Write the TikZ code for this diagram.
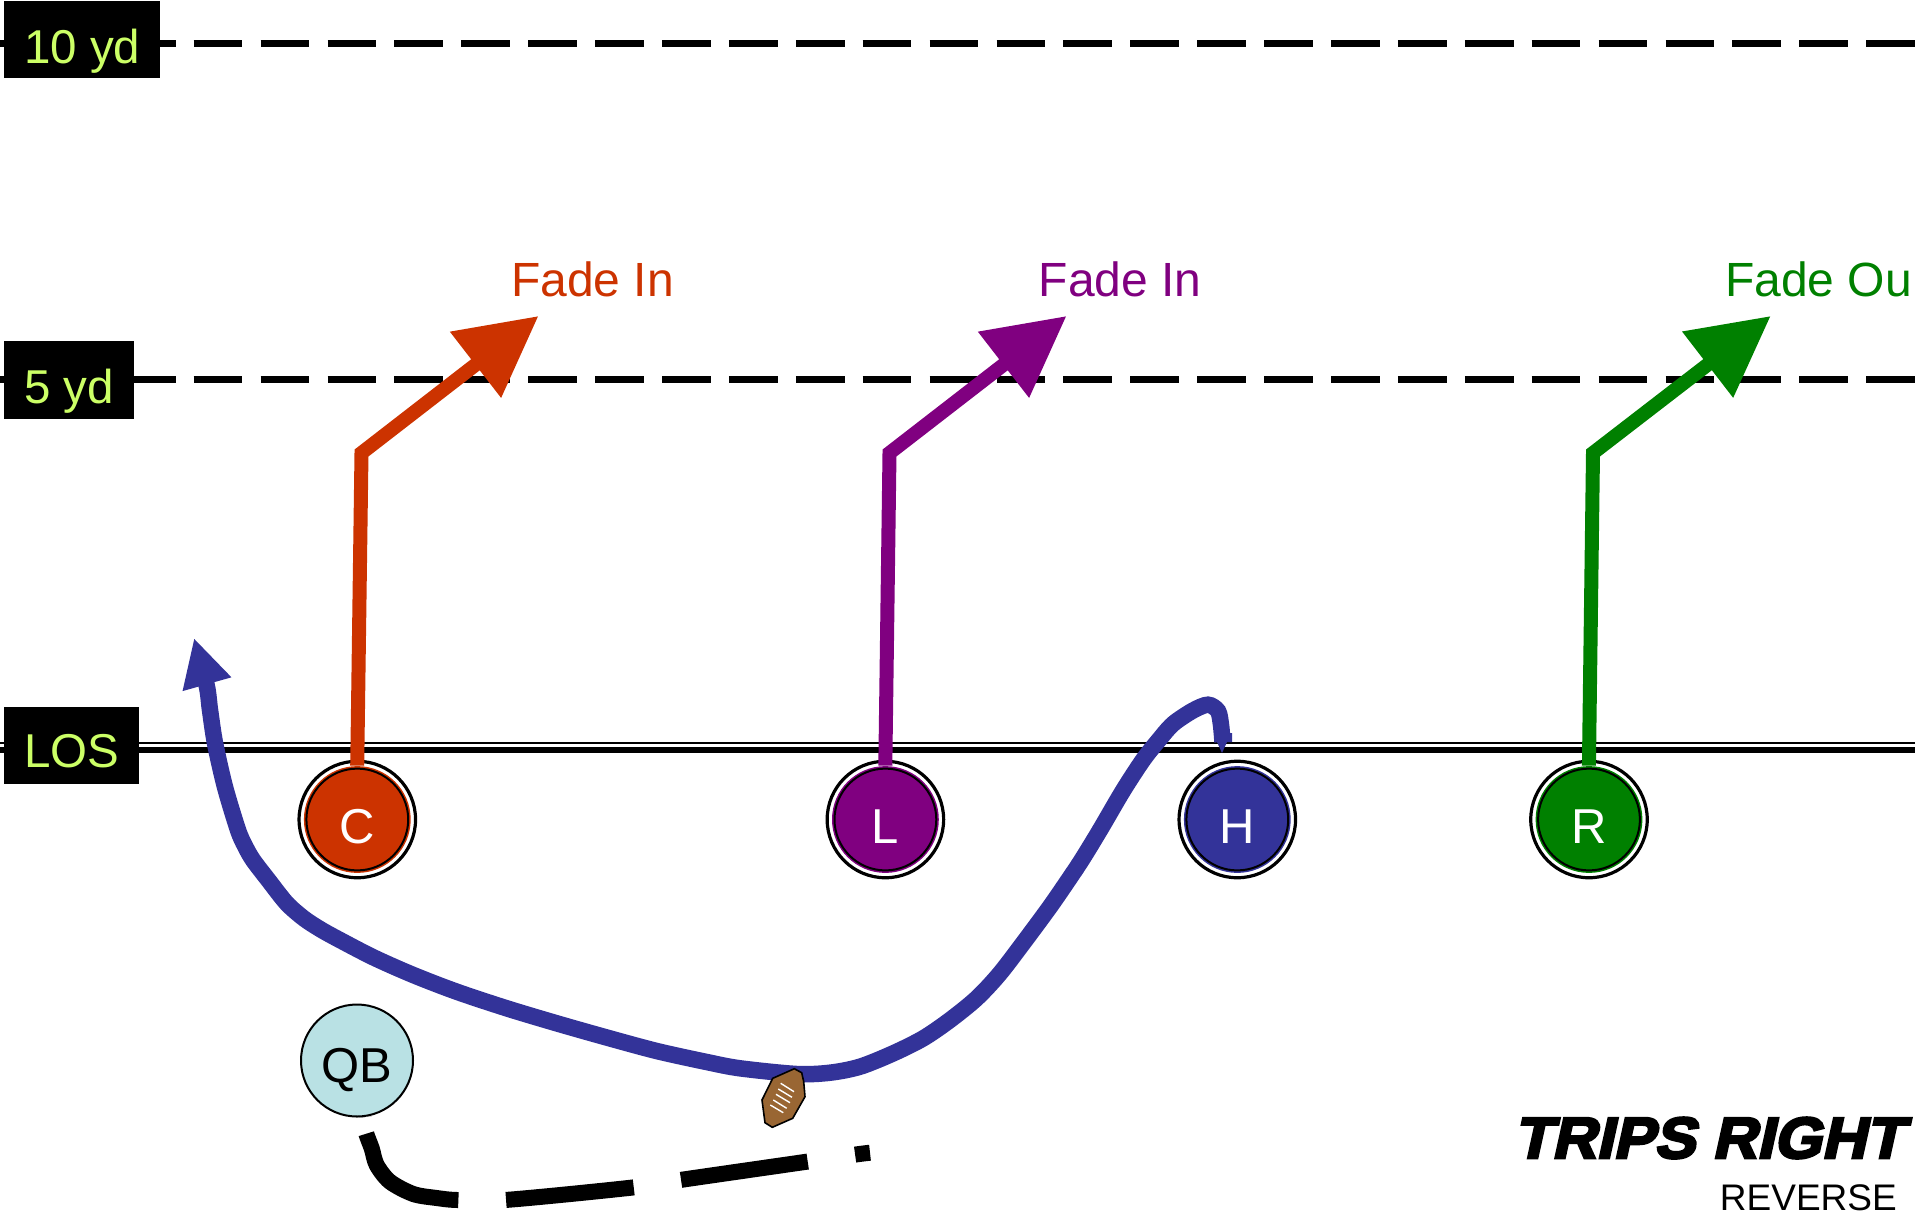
\documentclass[tikz,border=0pt]{standalone}
\usepackage{fontspec}
\setmainfont{Liberation Sans}
\newfontfamily\tripsfont[FakeBold=4.5,FakeSlant=0.22,FakeStretch=1.06]{Liberation Sans Bold}
\usetikzlibrary{arrows.meta}
\definecolor{cC}{HTML}{CC3300}
\definecolor{cL}{HTML}{800080}
\definecolor{cR}{HTML}{008000}
\definecolor{cH}{HTML}{333399}
\definecolor{cQ}{HTML}{B9E1E4}
\definecolor{cY}{HTML}{CCFF66}
\definecolor{cBall}{HTML}{996633}
\newcommand{\bigtxt}{\fontsize{48}{48}\selectfont}
\tikzset{
  player/.style={circle,inner sep=0pt,minimum size=116.5pt,draw=black,line width=3.2pt,fill=white,text=white,
    text height=48pt,text depth=0pt,font=\fontsize{49}{49}\selectfont,
    path picture={\fill[#1] (path picture bounding box.center) circle (53.4pt);
                  \draw[black,line width=2pt] (path picture bounding box.center) circle (50.9pt);}},
  qbnode/.style={circle,inner sep=0pt,minimum size=112pt,draw=black,line width=2pt,fill=cQ,text=black,
    text height=44.5pt,text depth=0pt,font=\fontsize{49}{49}\selectfont},
  yardbox/.style={fill=black,text=cY,inner sep=0pt,anchor=north west,text height=47pt,text depth=0pt,font=\fontsize{47.5}{47.5}\selectfont},
  routeline/.style={line width=14pt,line cap=butt,line join=miter,draw=#1,shorten <=-6pt,
    -{Triangle[length=79.7pt,width=79.8pt,fill=#1]}},
  routelabel/.style={anchor=base west,inner sep=0pt,font=\bigtxt,text=#1},
  lace/.style={draw=white,line width=1.4pt},
  yardline/.style={draw=black,line width=6.4pt,dash pattern=on 48.7pt off 18.2pt},
}
\begin{document}
\begin{tikzpicture}[x=1pt,y=-1pt]
\useasboundingbox (0,0) rectangle (1915,1221);
% field lines
\coordinate (a10) at (-7,43.3); \coordinate (b10) at (1915,43.3);
\coordinate (a5) at (-7,379.3); \coordinate (b5) at (1915,379.3);
\coordinate (a1) at (0,742.8); \coordinate (b1) at (1915,742.8);
\coordinate (a2) at (0,750); \coordinate (b2) at (1915,750);
\draw[yardline] (a10) -- (b10);
\draw[yardline] (a5) -- (b5);
\draw[black,line width=2.3pt] (a1) -- (b1);
\draw[black,line width=6.6pt] (a2) -- (b2);
% players
\node[player=cC] (C) at (357.3,819.5) {C};
\node[player=cL] (L) at (885.4,819.5) {L};
\node[player=cH] (H) at (1237.3,819.5) {H};
\node[player=cR] (R) at (1589,819.5) {R};
\node[qbnode] (QB) at (357,1060.5) {QB};
% straight routes
\coordinate (Ce) at (361.5,453); \coordinate (Ct) at (538.5,316);
\coordinate (Le) at (889.5,453); \coordinate (Lt) at (1066.5,316);
\coordinate (Re) at (1593,453); \coordinate (Rt) at (1770.7,316);
\draw[routeline=cC] (C.north) -- (Ce) -- (Ct);
\draw[routeline=cL] (L.north) -- (Le) -- (Lt);
\draw[routeline=cR] (R.north) -- (Re) -- (Rt);
% reverse route
\coordinate (Hs) at (1222.5,742); \coordinate (Ht) at (194,638);
\fill[cH] (1214,733) -- (1232,733) -- (1232,742) -- (1227,742) -- (1222,753) -- (1217,742) -- cycle;
\draw[cH,line width=16.5pt,-{Triangle[length=48pt,width=47pt]}] plot[smooth,tension=.5] coordinates {
 (Hs) (1221,725) (1218,711) (1208,704.7) (1193,710.5) (1173,724) (1158,741) (1143,760) (1123,790.7) (1100,830) (1081.7,860)
 (1066.7,882.5) (1050,906.7) (1026.7,938.3) (1000,973.3) (976.7,998.3) (950,1020) (923.3,1038.3) (893.3,1053.3) (860,1066.7)
 (830,1072.7) (796.7,1074) (740,1068.3) (706.7,1062) (656.7,1051) (606.7,1037.5) (556.7,1023.3) (506.7,1008.3) (456.7,991.7)
 (413.3,975) (373.3,957.3) (336.7,938.3) (320,929) (304,918.5) (286.7,903.3) (268.3,880) (253,860) (245,846) (238,830) (225,787) (215,743) (210,710) (206.5,684.5) (Ht)};
% pass
\draw[black,line width=16pt,dash pattern=on 0.01pt off 16.8pt on 126.5pt off 47.7pt on 128.3pt off 47.9pt on 128pt off 47.9pt on 15.8pt]
 plot[smooth,tension=.5] coordinates {(QB.-83) (366,1132.7) (371.7,1148.3) (376.7,1165) (390,1181.7) (413.3,1194) (436.7,1198) (457.3,1200)
 (505,1200) (632.7,1187.5) (680,1180) (806.7,1161.7) (854.3,1154.7) (870,1152.7)};
% football
\filldraw[fill=cBall,draw=black,line width=1.6pt] (794.3,1068.7) -- (801.7,1072.7) -- (803.7,1081.7) -- (805,1096.7) -- (792.7,1118.3) -- (772.3,1127.3) -- (765,1122.7) -- (762,1100) -- (772.7,1078.3) -- cycle;
\draw[lace] (780.7,1083.3) -- (794,1091.7);
\draw[lace] (778.3,1089) -- (792,1097.3);
\draw[lace] (776,1094.3) -- (790,1102.7);
\draw[lace] (773.3,1100) -- (786.7,1108.3);
\draw[lace] (770.3,1105) -- (783.3,1112.7);
% yard boxes
\node[yardbox,minimum width=156pt,minimum height=77pt] (y10) at (4,1) {10 yd};
\node[yardbox,minimum width=130pt,minimum height=78pt] (y5) at (4,341) {5 yd};
\node[yardbox,minimum width=135pt,minimum height=77pt,text height=43pt] (los) at (4,707) {LOS};
% route labels
\node[routelabel=cC] (tC) at (511,296.7) {Fade In};
\node[routelabel=cL] (tL) at (1038.6,296.7) {Fade In};
\node[routelabel=cR] (tR) at (1725,296.7) {Fade Ou};
% title
\node[anchor=base east,inner sep=0pt,font=\tripsfont\fontsize{58}{58}\selectfont] (title) at (1903.5,1158) {TRIPS RIGHT};
\node[anchor=base east,inner sep=0pt,font=\fontsize{37}{37}\selectfont] (sub) at (1897,1210.7) {REVERSE};
\end{tikzpicture}
\end{document}
